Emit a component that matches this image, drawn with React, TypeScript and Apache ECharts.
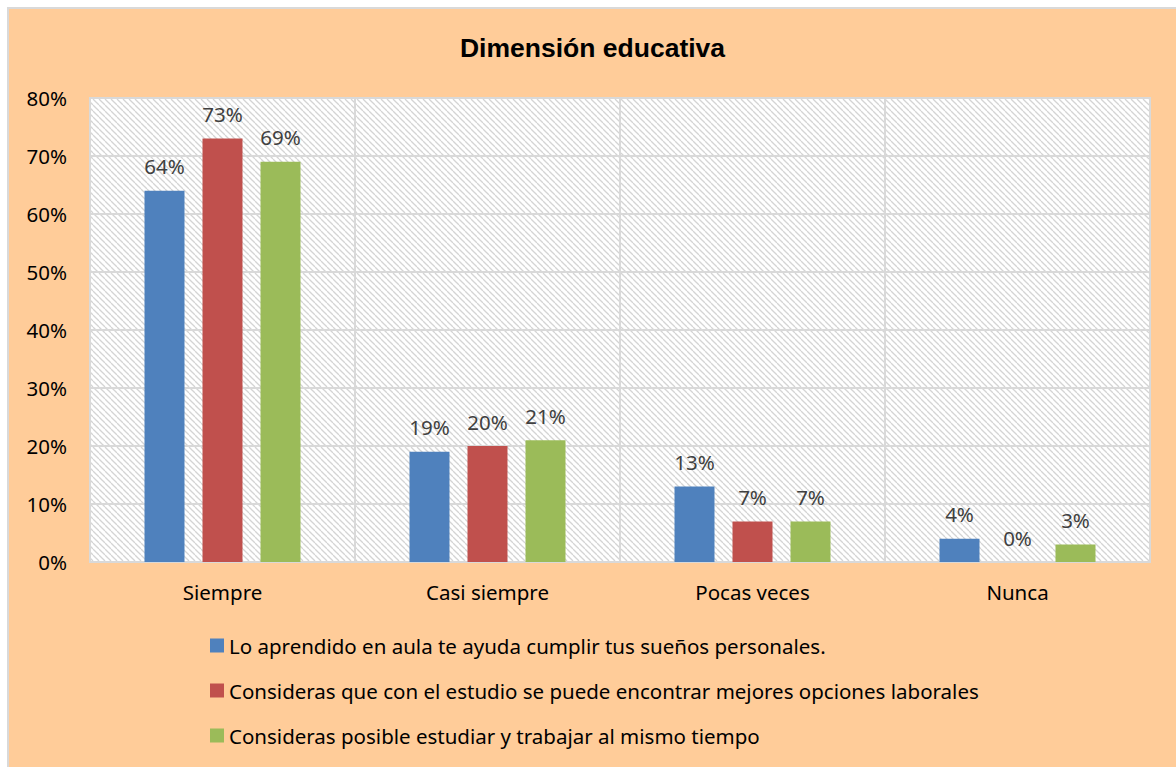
import React, { useEffect, useRef } from "react";
import * as echarts from "echarts";

const categories = ["Siempre", "Casi siempre", "Pocas veces", "Nunca"];
const seriesNames = [
  "Lo aprendido en aula te ayuda cumplir tus sueños personales.",
  "Consideras que con el estudio se puede encontrar mejores opciones laborales",
  "Consideras posible estudiar y trabajar al mismo tiempo",
];
const serie1 = [64, 19, 13, 4];
const serie2 = [73, 20, 7, 0];
const serie3 = [69, 21, 7, 3];
const colors = ["#4F81BD", "#C0504D", "#9BBB59"];
const title = "Dimensión educativa";

function makeHatch(): HTMLCanvasElement {
  const c = document.createElement("canvas");
  c.width = 6;
  c.height = 6;
  const ctx = c.getContext("2d")!;
  ctx.fillStyle = "#FFFFFF";
  ctx.fillRect(0, 0, 6, 6);
  ctx.strokeStyle = "#D4D4D4";
  ctx.lineWidth = 1.3;
  for (let k = -6; k <= 6; k += 6) {
    ctx.beginPath();
    ctx.moveTo(k, 0);
    ctx.lineTo(k + 6, 6);
    ctx.stroke();
  }
  return c;
}

export default function App() {
  const ref = useRef<HTMLDivElement>(null);
  useEffect(() => {
    if (!ref.current) return;
    const chart = echarts.init(ref.current, undefined, { renderer: "svg" });
    const font = "'Noto Sans', sans-serif";
    const fs = 20.5;
    const data = [serie1, serie2, serie3];
    chart.setOption({
      animation: false,
      backgroundColor: "#FFCC99",
      title: {
        text: title,
        left: "center",
        top: 20,
        textStyle: {
          fontFamily: "'Liberation Sans', Arial, sans-serif",
          fontWeight: "bold",
          fontSize: 26.5,
          color: "#000000",
        },
      },
      grid: {
        left: 81,
        right: 26,
        top: 89,
        bottom: 205,
        show: true,
        backgroundColor: { image: makeHatch(), repeat: "repeat" },
        borderColor: "#D9D9D9",
        borderWidth: 2,
      },
      legend: {
        orient: "vertical",
        left: 201,
        top: 626,
        padding: 0,
        itemWidth: 14,
        itemHeight: 14,
        itemGap: 24,
        icon: "rect",
        textStyle: { fontFamily: font, fontSize: fs, color: "#000000" },
        data: seriesNames,
      },
      xAxis: {
        type: "category",
        data: categories,
        axisLine: { show: true, lineStyle: { color: "#D9D9D9", width: 2 } },
        axisTick: { show: false },
        splitLine: { show: true, lineStyle: { color: "#D9D9D9", width: 2 } },
        axisLabel: { fontFamily: font, fontSize: fs, color: "#000000", margin: 19 },
      },
      yAxis: {
        type: "value",
        min: 0,
        max: 80,
        interval: 10,
        axisLine: { show: false },
        axisTick: { show: false },
        splitLine: { show: true, lineStyle: { color: "#D9D9D9", width: 2 } },
        axisLabel: {
          fontFamily: font,
          fontSize: fs,
          color: "#000000",
          margin: 23,
          formatter: (v: number) => v + "%",
        },
      },
      series: data.map((d, i) => ({
        type: "bar",
        name: seriesNames[i],
        data: d,
        barWidth: 40,
        barGap: "45%",
        itemStyle: { color: colors[i] },
        label: {
          show: true,
          position: "top",
          distance: 14,
          formatter: (p: any) => p.value + "%",
          fontFamily: font,
          fontSize: fs,
          color: "#404040",
        },
      })),
    });
    return () => chart.dispose();
  }, []);
  return (
    <div
      style={{
        position: "fixed",
        left: 0,
        top: 0,
        width: 1176,
        height: 767,
        background: "#FFFFFF",
      }}
    >
      <div
        style={{
          position: "absolute",
          left: 7,
          top: 7,
          width: 1169,
          height: 760,
          borderTop: "2px solid #D9D9D9",
          borderLeft: "2px solid #D9D9D9",
        }}
      >
        <div ref={ref} style={{ width: 1167, height: 758 }} />
      </div>
    </div>
  );
}
